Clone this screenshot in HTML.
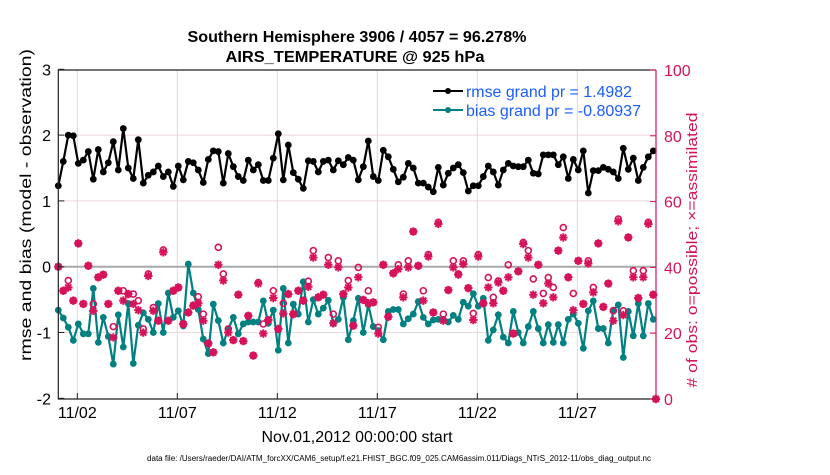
<!DOCTYPE html>
<html><head><meta charset="utf-8"><style>
body{margin:0;background:#fff;}
svg text{font-family:"Liberation Sans",Arial,sans-serif;}
</style></head><body>
<svg id="chart" width="830" height="470" viewBox="0 0 830 470" xmlns="http://www.w3.org/2000/svg">
<g id="grid"></g>
<g id="plot"></g>
<g id="axes"></g>
<text x="357" y="42" text-anchor="middle" font-size="16" font-weight="bold" textLength="339" lengthAdjust="spacingAndGlyphs">Southern Hemisphere 3906 / 4057 = 96.278%</text>
<text x="355" y="62" text-anchor="middle" font-size="16" font-weight="bold" textLength="259" lengthAdjust="spacingAndGlyphs">AIRS_TEMPERATURE @ 925 hPa</text>
<text transform="translate(31,205) rotate(-90)" text-anchor="middle" font-size="16" textLength="312" lengthAdjust="spacingAndGlyphs">rmse and bias (model - observation)</text>
<text transform="translate(697,250) rotate(-90)" text-anchor="middle" font-size="15" fill="#d6135a" textLength="275" lengthAdjust="spacingAndGlyphs"># of obs: o=possible; ×=assimilated</text>
<text x="357" y="442" text-anchor="middle" font-size="16" textLength="191" lengthAdjust="spacingAndGlyphs">Nov.01,2012 00:00:00 start</text>
<text x="399" y="461" text-anchor="middle" font-size="8" textLength="504" lengthAdjust="spacingAndGlyphs">data file: /Users/raeder/DAI/ATM_forcXX/CAM6_setup/f.e21.FHIST_BGC.f09_025.CAM6assim.011/Diags_NTrS_2012-11/obs_diag_output.nc</text>
<g>
<line x1="433" y1="91" x2="463" y2="91" stroke="#000" stroke-width="2"/>
<circle cx="448" cy="91" r="3" fill="#000"/>
<text x="466" y="97" font-size="16" fill="#1a5cff" textLength="166" lengthAdjust="spacingAndGlyphs">rmse grand pr = 1.4982</text>
<line x1="433" y1="110" x2="463" y2="110" stroke="#008080" stroke-width="2"/>
<circle cx="448" cy="110" r="3" fill="#008080"/>
<text x="466" y="116" font-size="16" fill="#1a5cff" textLength="175" lengthAdjust="spacingAndGlyphs">bias grand pr = -0.80937</text>
</g>
</svg>
<script>
const rmse=[1.23,1.60,2.00,1.99,1.57,1.62,1.75,1.33,1.78,1.44,1.58,1.90,1.47,2.10,1.50,1.34,1.93,1.27,1.39,1.44,1.53,1.37,1.44,1.22,1.53,1.32,1.60,1.58,1.47,1.28,1.63,1.76,1.75,1.27,1.72,1.52,1.37,1.31,1.62,1.47,1.55,1.31,1.31,1.65,2.02,1.32,1.85,1.43,1.33,1.19,1.61,1.60,1.44,1.60,1.62,1.47,1.61,1.55,1.66,1.62,1.32,1.52,1.91,1.37,1.31,1.77,1.67,1.48,1.29,1.36,1.57,1.50,1.27,1.27,1.21,1.14,1.51,1.24,1.42,1.50,1.55,1.43,1.15,1.23,1.23,1.37,1.53,1.44,1.24,1.47,1.57,1.53,1.52,1.52,1.62,1.42,1.41,1.70,1.70,1.70,1.55,1.67,1.34,1.63,1.47,1.76,1.12,1.46,1.46,1.51,1.48,1.44,1.34,1.80,1.48,1.65,1.31,1.51,1.67,1.76];
const bias=[-0.66,-0.78,-0.92,-1.12,-0.87,-1.02,-1.02,-0.33,-1.15,-0.77,-1.06,-1.48,-0.73,-1.22,-0.56,-1.47,-0.89,-0.70,-0.80,-1.00,-0.56,-1.00,-0.40,-0.77,-0.67,-0.90,0.04,-0.40,-0.65,-1.10,-1.32,-0.57,-0.82,-1.16,-0.95,-0.77,-1.02,-0.87,-0.84,-0.84,-0.84,-0.52,-0.86,-0.66,-1.27,-0.33,-1.16,-0.57,-0.72,-0.23,-0.84,-0.50,-0.72,-0.63,-0.51,-0.86,-0.80,-0.47,-1.11,-0.82,-0.48,-1.00,-0.58,-0.91,-0.97,-1.11,-0.68,-0.65,-0.65,-0.87,-0.79,-0.72,-0.53,-0.77,-0.87,-0.81,-0.80,-0.80,-0.84,-0.74,-0.80,-0.54,-0.60,-0.41,-0.60,-0.48,-1.12,-0.96,-0.73,-1.07,-1.16,-0.68,-1.00,-1.16,-0.91,-0.68,-0.94,-1.16,-0.88,-1.15,-0.88,-1.16,-0.80,-0.72,-0.86,-1.24,-0.67,-0.52,-0.94,-0.94,-1.16,-0.66,-0.58,-1.38,-0.68,-1.05,-0.56,-1.05,-0.56,-0.80];
const assimilated=[40.2,32.9,33.9,29.9,47.3,28.9,40.5,26.8,37.0,37.8,28.9,18.7,32.9,29.9,31.9,28.9,27.0,20.2,37.4,26.8,23.8,44.6,23.8,32.9,33.9,22.8,26.3,28.4,29.1,23.8,16.9,14.2,40.8,36.0,20.2,17.9,31.7,17.6,25.3,13.2,35.1,19.9,24.0,30.7,21.3,26.0,31.9,25.8,32.9,29.9,34.1,43.0,30.9,31.7,40.8,23.0,40.0,31.9,33.9,22.3,37.0,30.1,29.1,29.4,19.9,40.8,25.0,38.2,39.5,30.9,40.0,50.9,40.5,29.9,43.3,26.3,53.2,23.8,33.1,40.0,37.8,41.0,33.7,24.0,43.3,29.1,33.9,29.1,35.4,32.9,37.0,19.9,38.8,47.1,43.0,31.7,40.8,29.1,35.1,30.9,45.1,49.1,37.0,27.0,42.0,28.9,41.2,32.4,47.3,28.0,35.1,23.8,54.0,25.5,49.1,37.0,30.7,37.0,53.2,31.7,0];
const possible=[40.2,32.9,36.0,29.9,47.3,28.9,40.5,28.9,37.0,37.8,28.9,22.0,32.9,32.9,31.9,31.9,29.9,21.3,38.0,27.8,23.8,45.3,23.8,32.9,33.9,22.8,26.3,28.4,31.1,25.8,16.9,14.2,46.1,38.0,21.3,17.9,31.7,17.6,25.3,13.2,35.4,22.8,24.0,32.9,21.3,29.1,31.9,25.8,32.9,29.9,35.8,45.1,30.9,31.7,43.0,25.8,42.0,31.9,36.0,22.3,40.0,30.1,32.9,29.4,21.8,40.8,25.0,38.2,40.8,31.9,42.0,50.9,40.5,32.9,43.9,26.3,53.7,25.8,33.1,42.0,38.0,42.0,33.7,26.0,43.9,29.1,36.9,30.9,35.9,32.9,40.8,19.9,38.8,47.6,45.1,36.5,40.8,32.1,36.9,33.9,45.1,52.1,37.0,32.1,42.0,28.9,42.0,33.9,47.3,28.0,35.1,26.8,54.7,26.8,49.1,39.0,30.7,39.0,53.7,31.7,0];
const xTickLabels=["11/02","11/07","11/12","11/17","11/22","11/27"];
const xTickDays=[1,6,11,16,21,26];
const yTicks=[3,2,1,0,-1,-2];
const y2Ticks=[100,80,60,40,20,0];

const NS="http://www.w3.org/2000/svg";
const L=58.3,R=656,T=70,B=399;
function xs(day){return 57.3+20*day;}
function ys(v){return 266.7-65.8*v;}
function ys2(c){return B-(B-T)*c/100;}
function dayOf(i){return 0.05+0.25*i;}
function mk(tag,attrs,parent){const e=document.createElementNS(NS,tag);for(const k in attrs)e.setAttribute(k,attrs[k]);parent.appendChild(e);return e;}
const grid=document.getElementById('grid'),plot=document.getElementById('plot'),axes=document.getElementById('axes');
const PINK="#d6135a",TEAL="#008080";
xTickDays.forEach((d,k)=>{
 const g=mk('line',{x1:xs(d),x2:xs(d),y1:T,y2:B,stroke:'#dcdcdc','stroke-width':1},grid);
 
 
});
yTicks.forEach(v=>{
 if(v===3||v===-2)return;
 const g=mk('line',{x1:L,x2:R,y1:ys(v),y2:ys(v),stroke:v===0?'#a8a8a8':'#f0d6df','stroke-width':v===0?2:1},grid);
 
 
});
function linePath(arr){return arr.map((v,i)=>(i?'L':'M')+xs(dayOf(i)).toFixed(1)+','+ys(v).toFixed(1)).join('');}
const bl=mk('path',{d:linePath(bias),fill:'none',stroke:TEAL,'stroke-width':2.2},plot);


bias.forEach((v,i)=>{
 const c=mk('circle',{cx:xs(dayOf(i)),cy:ys(v),r:3.4,fill:TEAL},plot);
 
 
});
possible.forEach((v,i)=>{
 const d=i<120?dayOf(i):29.93;
 const c=mk('circle',{cx:xs(d),cy:ys2(v),r:3,fill:'none',stroke:PINK,'stroke-width':1.6},plot);
 
 
});
assimilated.forEach((v,i)=>{
 const d=i<120?dayOf(i):29.93;
 const x=xs(d),y=ys2(v),s=4.2,q=3;
 const p=mk('path',{d:`M${x-s},${y}H${x+s}M${x},${y-s}V${y+s}M${x-q},${y-q}L${x+q},${y+q}M${x-q},${y+q}L${x+q},${y-q}`,stroke:PINK,'stroke-width':2},plot);
 
 
});
const rl=mk('path',{d:linePath(rmse),fill:'none',stroke:'#000','stroke-width':2.2},plot);


rmse.forEach((v,i)=>{
 const c=mk('circle',{cx:xs(dayOf(i)),cy:ys(v),r:3.4,fill:'#000'},plot);
 
 
});
const ax=mk('path',{d:`M${R},${T}H${L}V${B}H${R}`,fill:'none',stroke:'#222','stroke-width':1.2},axes);


const ra=mk('line',{x1:R,x2:R,y1:T,y2:B,stroke:PINK,'stroke-width':1.2},axes);


xTickDays.forEach((d,k)=>{
 const t=mk('line',{x1:xs(d),x2:xs(d),y1:B,y2:B-6,stroke:'#222'},axes);
 
 
 const tx=mk('text',{x:xs(d),y:418,'text-anchor':'middle','font-size':16},axes);
 tx.textContent=xTickLabels[k];
 
 
});
yTicks.forEach(v=>{
 const t=mk('line',{x1:L,x2:L+6,y1:ys(v),y2:ys(v),stroke:'#222'},axes);
 
 
 const tx=mk('text',{x:51,y:ys(v)+6,'text-anchor':'end','font-size':16},axes);
 tx.textContent=v;
 
 
});
y2Ticks.forEach(v=>{
 const t=mk('line',{x1:R,x2:R-6,y1:ys2(v),y2:ys2(v),stroke:PINK},axes);
 
 
 const tx=mk('text',{x:664,y:ys2(v)+6,'font-size':16,fill:PINK},axes);
 tx.textContent=v;
 
 
});
</script>
</body></html>
